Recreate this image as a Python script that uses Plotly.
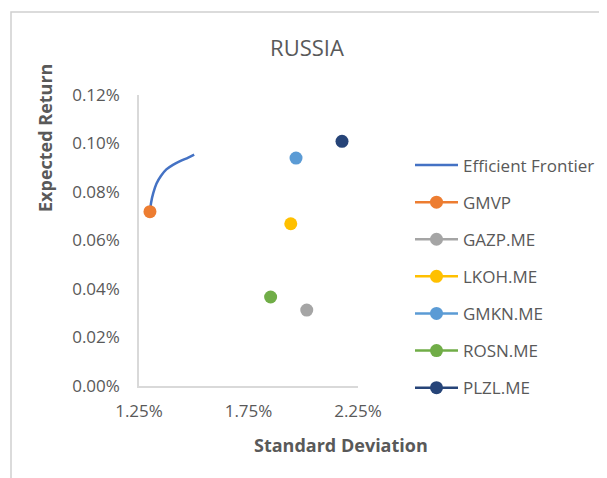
import plotly.graph_objects as go

# efficient frontier (std dev, expected return), as fractions
frontier_sd = [0.01300, 0.01305, 0.01315, 0.01330, 0.01350, 0.01375, 0.01405, 0.01440, 0.01475, 0.01502]
frontier_ret = [0.000719, 0.000755, 0.000795, 0.000835, 0.000866, 0.000893, 0.000912, 0.000928, 0.000942, 0.000954]

names = ["GMVP", "GAZP.ME", "LKOH.ME", "GMKN.ME", "ROSN.ME", "PLZL.ME"]
sd = [0.01300, 0.02016, 0.01943, 0.01967, 0.01851, 0.02177]
ret = [0.000719, 0.000313, 0.000669, 0.000940, 0.000367, 0.001009]
colors = ["#ED7D31", "#A5A5A5", "#FFC000", "#5B9BD5", "#70AD47", "#264478"]

x_ticks = [0.0125, 0.0175, 0.0225]
y_ticks = [0, 0.0002, 0.0004, 0.0006, 0.0008, 0.0010, 0.0012]

FONT = "Open Sans, Arial"
GREY = "#595959"

# plot area in figure pixels (page adds an 8px body margin)
L, T, PW, PH = 131, 87, 219, 291
W, H = 599, 470

fig = go.Figure()
fig.add_trace(go.Scatter(
    x=frontier_sd, y=frontier_ret, mode="lines", name="Efficient Frontier",
    line=dict(color="#4472C4", width=2.5, shape="spline"), legendgroup="ef",
))
for n, x, y, c in zip(names, sd, ret, colors):
    fig.add_trace(go.Scatter(
        x=[x], y=[y], mode="lines+markers", name=n, legendgroup=n,
        marker=dict(color=c, size=13), line=dict(color=c, width=2.5),
    ))

fig.update_layout(
    width=W, height=H,
    margin=dict(l=L, r=W - L - PW, t=T, b=H - T - PH, autoexpand=False),
    paper_bgcolor="white", plot_bgcolor="white",
    font=dict(family=FONT, color=GREY, size=16),
    title=dict(text="RUSSIA", x=299 / W, xref="container", y=1 - 40 / H, yref="container",
               xanchor="center", yanchor="middle", font=dict(size=22, color=GREY)),
    legend=dict(x=(402 - L) / PW, xanchor="left", y=(T + PH - 268.5) / PH, yanchor="middle",
                tracegroupgap=12, itemwidth=43, font=dict(size=17, color=GREY)),
    showlegend=True,
)

fig.update_xaxes(
    range=[0.0125, 0.0225], tickvals=x_ticks, tickformat=".2%",
    showgrid=False, zeroline=False, showline=True, linecolor="#d9d9d9", linewidth=1.5,
    ticks="", ticklabelstandoff=9, tickfont=dict(size=17, color=GREY),
)
fig.update_yaxes(
    range=[0, 0.0012], tickvals=y_ticks, tickformat=".2%",
    showgrid=False, zeroline=False, showline=True, linecolor="#d9d9d9", linewidth=1.5,
    ticks="", ticklabelstandoff=14, tickfont=dict(size=17, color=GREY),
)

# axis titles placed as in the original
fig.add_annotation(text="<b>Standard Deviation</b>", xref="paper", yref="paper",
                   x=(333 - L) / PW, y=(T + PH - 437) / PH, showarrow=False,
                   xanchor="center", yanchor="middle", font=dict(size=18, color=GREY))
fig.add_annotation(text="<b>Expected Return</b>", xref="paper", yref="paper",
                   x=(37 - L) / PW, y=(T + PH - 130) / PH, showarrow=False,
                   xanchor="center", yanchor="middle",
                   textangle=-90, font=dict(size=18, color=GREY))

# chart frame
fig.add_shape(type="rect", xref="paper", yref="paper",
              x0=(3 - L) / PW, x1=(640 - L) / PW,
              y0=(T + PH - 520) / PH, y1=(T + PH - 4) / PH,
              line=dict(color="#d0d0d0", width=1.5))

fig.write_html("out.html")
